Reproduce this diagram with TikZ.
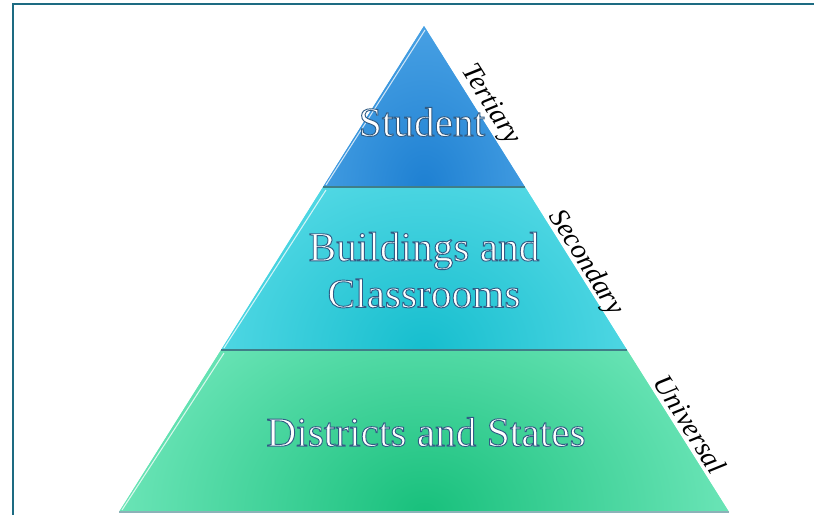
\documentclass[tikz,border=0pt]{standalone}
\usepackage{fontspec}
\setmainfont{Liberation Serif}
\usetikzlibrary{calc}

\definecolor{frameteal}{HTML}{1D6B82}
\definecolor{tertlight}{HTML}{66B8F0}
\definecolor{tertdark}{HTML}{1E80D2}
\definecolor{seclight}{HTML}{72E6F0}
\definecolor{secdark}{HTML}{16BECE}
\definecolor{unilight}{HTML}{80EEC6}
\definecolor{unidark}{HTML}{18C07C}
\definecolor{seamline}{HTML}{3F7E88}

% glow that fades from the bottom centre of each tier
\pgfdeclareradialshading[tier dark,tier light]{tierglow}{\pgfpoint{0bp}{0bp}}{%
  color(0bp)=(tier dark); color(28bp)=(tier light);
  color(50bp)=(tier light)}

% white letters with a thin dark rim (fill + stroke render mode)
\newcommand{\rimtext}[1]{%
  \special{pdf:literal direct 0.19 0.36 0.52 RG 0.7 w 2 Tr}#1%
  \special{pdf:literal direct 0 Tr}}

\begin{document}
\begin{tikzpicture}[x=0.75pt, y=-0.75pt,
  frame/.style   = {draw=frameteal, line width=1.7pt},
  tier/.style n args = {4}{fill=#1, path picture={
      \colorlet{tier light}{#1}\colorlet{tier dark}{#2}
      \shade[shading=tierglow]
        (path picture bounding box.south) ellipse (#3 and #4);}},
  seam/.style    = {draw=seamline, line width=0.9pt},
  shine/.style   = {draw=white, opacity=0.75, line width=0.8pt},
  tiertext/.style= {text=white, font=\fontsize{31}{35}\selectfont,
                    align=center, inner sep=0pt},
  tierlabel/.style={font=\fontsize{21}{23}\selectfont\itshape, rotate=-57.9,
                    anchor=base, inner sep=0pt}
]
\useasboundingbox (0,0) rectangle (814,515);

% outer frame (only top and left edges show)
\draw[frame] (814,4) -- (13,4) -- (13,515);

% pyramid corners
\coordinate (apex)  at (424,26);
\coordinate (t1l)   at (323,187);
\coordinate (t1r)   at (525,187);
\coordinate (t2l)   at (221,350);
\coordinate (t2r)   at (627,350);
\coordinate (baseL) at (119,512);
\coordinate (baseR) at (729,512);

% three tiers, darker toward the bottom centre
\path[tier={tertlight}{tertdark}{190}{250}] (apex) -- (t1r) -- (t1l) -- cycle;
\path[tier={seclight}{secdark}{300}{260}]   (t1l) -- (t1r) -- (t2r) -- (t2l) -- cycle;
\path[tier={unilight}{unidark}{345}{265}]   (t2l) -- (t2r) -- (baseR) -- (baseL) -- cycle;

% light rims on the left edges
\draw[shine] ($(apex)+(1,4)$) -- ($(t1l)+(3,-2)$);
\draw[shine] ($(t1l)+(3,3)$)  -- ($(t2l)+(3,-2)$);
\draw[shine] ($(t2l)+(3,3)$)  -- ($(baseL)+(3,-2)$);

% seams between tiers
\draw[seam] (t1l) -- (t1r);
\draw[seam] (t2l) -- (t2r);
\draw[seam, draw=seamline!60] (baseL) -- (baseR);

% tier captions
\node[tiertext] (student) at (422,122) {\rimtext{Student}};
\node[tiertext] (buildings) at (424,270)
  {\rimtext{Buildings and}\\\rimtext{Classrooms}};
\node[tiertext] (districts) at (426,432) {\rimtext{Districts and States}};

% prevention levels along the right edge
\node[tierlabel] (tertiary)  at ($(apex)!0.170!(baseR)+(9,0)$) {Tertiary};
\node[tierlabel] (secondary) at ($(apex)!0.495!(baseR)+(5,0)$) {Secondary};
\node[tierlabel] (universal) at ($(apex)!0.830!(baseR)+(5,0)$) {Universal};

\end{tikzpicture}
\end{document}
